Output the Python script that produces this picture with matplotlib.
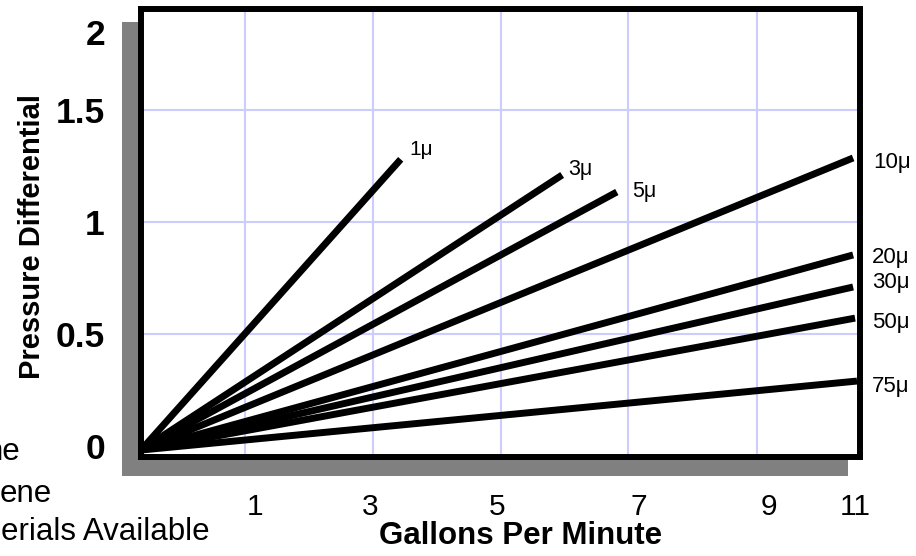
# Pressure drop vs flow for the filter grades

import matplotlib.pyplot as plt
from matplotlib.patches import Rectangle

plt.rcParams['font.family'] = ['Liberation Sans', 'DejaVu Sans']

# line for each grade runs from the common start to its end point (GPM, pressure)
grades = ['1μ', '3μ', '5μ', '10μ', '20μ', '30μ', '50μ', '75μ']
end_gpm = [3.99, 6.47, 7.31, 10.94, 10.94, 10.94, 10.97, 11.0]
end_dp = [1.28, 1.21, 1.134, 1.286, 0.853, 0.71, 0.571, 0.29]
start_gpm = 0.0
start_dp = -0.018

x_ticks = [1.75, 3.52, 5.47, 7.65, 9.65, 10.97]
x_labels = ['1', '3', '5', '7', '9', '11']
y_ticks = [0, 0.5, 1, 1.5, 1.85]
y_labels = ['0', '0.5', '1', '1.5', '2']
grid_x = [1.6, 3.56, 5.53, 7.48, 9.46]
grid_y = [0.5, 1.0, 1.5]

# where each grade label sits relative to its line end (pixels), and its size
label_offsets = [(9, 4), (6, 0), (15, -5), (20, -10), (19, -8), (19, -1), (17, -10), (15, -11)]
label_sizes = [15, 15.5, 15.5, 16, 16, 16, 16, 16]

W, H = 916, 556
fig = plt.figure(figsize=(W / 100, H / 100), dpi=100)
ax = fig.add_axes([141 / W, 1 - 457 / H, 719 / W, 448 / H])

# grey drop shadow behind the box
shadow = Rectangle((122 / W, 1 - 476 / H), (848 - 122) / W, (476 - 22) / H,
                   transform=fig.transFigure, facecolor='#808080', edgecolor='none', zorder=-1)
fig.add_artist(shadow)

ax.set_xlim(0, 11.046)
ax.set_ylim(-0.049, 1.951)

for gx in grid_x:
    ax.axvline(gx, color='#ccccff', lw=1.5, zorder=1)
for gy in grid_y:
    ax.axhline(gy, color='#ccccff', lw=1.5, zorder=1)

for name, gx, gy, off, fs in zip(grades, end_gpm, end_dp, label_offsets, label_sizes):
    ax.plot([start_gpm, gx], [start_dp, gy], color='black', lw=5,
            solid_capstyle='butt', zorder=3)
    ax.annotate(name, xy=(gx, gy), xytext=off, textcoords='offset pixels',
                ha='left', va='baseline', fontsize=fs, annotation_clip=False)

for s in ax.spines.values():
    s.set_linewidth(4.3)
    s.set_color('black')

ax.set_xticks(x_ticks, x_labels)
ax.set_yticks(y_ticks, y_labels)
ax.tick_params(axis='x', length=0, pad=26, labelsize=21.5)
ax.tick_params(axis='y', length=0, pad=26, labelsize=25.5)
for t in ax.get_yticklabels():
    t.set_fontweight('bold')

ax.set_xlabel('Gallons Per Minute', fontsize=22.5, fontweight='bold')
ax.xaxis.set_label_coords(0.528, -0.143)
ax.set_ylabel('Pressure Differential', fontsize=21, fontweight='bold')
ax.yaxis.set_label_coords(-0.132, 0.493)

# cut-off text from the left edge of the slide
fig.text(21 / W, 1 - 460 / H, 'ne', ha='right', va='baseline', fontsize=22.5)
fig.text(0, 1 - 502 / H, 'ene', ha='left', va='baseline', fontsize=22.5)
fig.text(1 / W, 1 - 540 / H, 'erials Available', ha='left', va='baseline', fontsize=22.5)

fig.savefig('out.png', dpi=100)
